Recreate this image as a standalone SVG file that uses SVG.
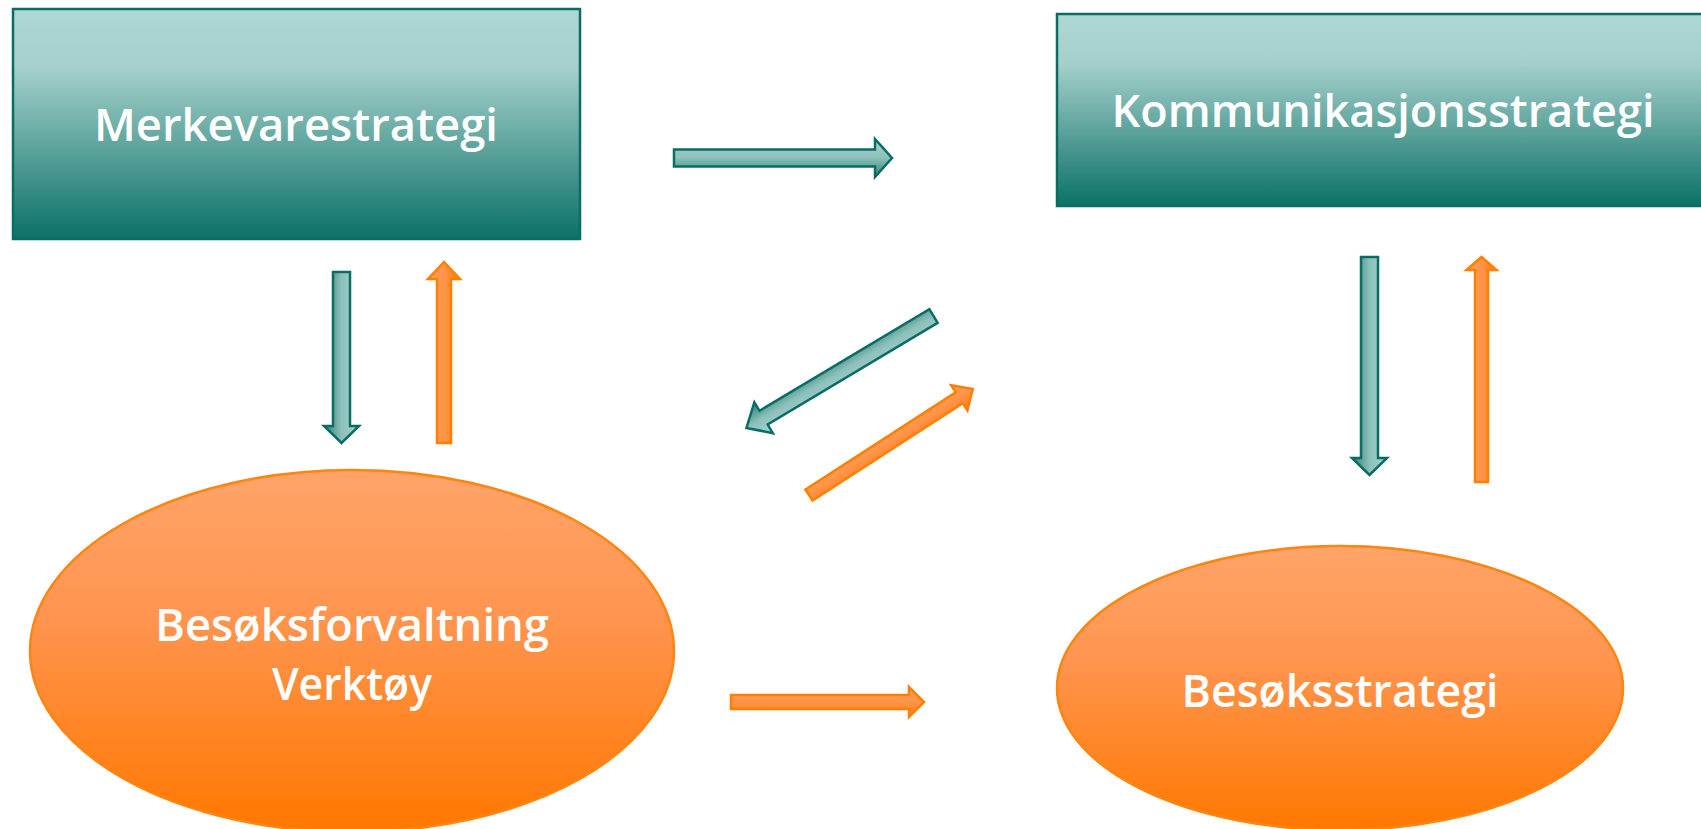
<svg xmlns="http://www.w3.org/2000/svg" width="1701" height="829" viewBox="0 0 1701 829">
<defs>
<linearGradient id="boxG" x1="0" y1="0" x2="0" y2="1">
<stop offset="0" stop-color="#afd7d3"/>
<stop offset="0.25" stop-color="#a6d0cb"/>
<stop offset="1" stop-color="#0b7168"/>
</linearGradient>
<linearGradient id="ellG" x1="0" y1="0" x2="0" y2="1">
<stop offset="0" stop-color="#ffa468"/>
<stop offset="0.4" stop-color="#ff9550"/>
<stop offset="1" stop-color="#ff7800"/>
</linearGradient>
<linearGradient id="tealA" x1="0" y1="0" x2="0" y2="1">
<stop offset="0" stop-color="#a9d3ce"/>
<stop offset="0.5" stop-color="#8cc0ba"/>
<stop offset="1" stop-color="#2e8078"/>
</linearGradient>
<linearGradient id="orA" x1="0" y1="0" x2="0" y2="1">
<stop offset="0" stop-color="#ffa060"/>
<stop offset="0.5" stop-color="#ff9448"/>
<stop offset="1" stop-color="#ff7d10"/>
</linearGradient>
<style>
.box{fill:url(#boxG);stroke:#0a6d64;stroke-width:2.5}
.ell{fill:url(#ellG);stroke:#ff8410;stroke-width:2.5}
.lbl{font-family:"Open Sans","Noto Sans","Liberation Sans",sans-serif;font-weight:600;font-size:45px;fill:#ffffff;text-anchor:middle}
.ta{fill:url(#tealA);stroke:#0a6d64;stroke-width:2.5;stroke-linejoin:miter}
.oa{fill:url(#orA);stroke:#ff8000;stroke-width:2.5;stroke-linejoin:miter}
</style>
</defs>
<rect width="1701" height="829" fill="#ffffff"/>

<g id="merkevarestrategi">
<rect class="box" x="13" y="9" width="567" height="230"/>
<text class="lbl" x="296" y="141" textLength="404" lengthAdjust="spacingAndGlyphs">Merkevarestrategi</text>
</g>

<g id="kommunikasjonsstrategi">
<rect class="box" x="1057" y="14" width="660" height="192"/>
<text class="lbl" x="1383" y="127" textLength="543" lengthAdjust="spacingAndGlyphs">Kommunikasjonsstrategi</text>
</g>

<g id="besoksforvaltning">
<ellipse class="ell" cx="352" cy="651" rx="322" ry="181"/>
<text class="lbl" x="352" y="641" textLength="394" lengthAdjust="spacingAndGlyphs">Besøksforvaltning</text>
<text class="lbl" x="352" y="700" textLength="160" lengthAdjust="spacingAndGlyphs">Verktøy</text>
</g>

<g id="besoksstrategi">
<ellipse class="ell" cx="1340" cy="688" rx="283" ry="142"/>
<text class="lbl" x="1340" y="707" textLength="317" lengthAdjust="spacingAndGlyphs">Besøksstrategi</text>
</g>

<g id="connectors">
<!-- Merkevare -> Kommunikasjon -->
<polygon class="ta" transform="translate(674,158)" points="0,-8.5 201,-8.5 201,-19 218,0 201,19 201,8.5 0,8.5"/>
<!-- Merkevare -> Besøksforvaltning -->
<polygon class="ta" transform="translate(341.5,272) rotate(90)" points="0,-8.5 154,-8.5 154,-17.5 171,0 154,17.5 154,8.5 0,8.5"/>
<!-- Besøksforvaltning -> Merkevare -->
<polygon class="oa" transform="translate(444,443) rotate(-90)" points="0,-7 164,-7 164,-16 181,0 164,16 164,7 0,7"/>
<!-- Kommunikasjon -> Besøksstrategi -->
<polygon class="ta" transform="translate(1369.5,257) rotate(90)" points="0,-8.5 201,-8.5 201,-17.5 218,0 201,17.5 201,8.5 0,8.5"/>
<!-- Besøksstrategi -> Kommunikasjon -->
<polygon class="oa" transform="translate(1481.5,482) rotate(-90)" points="0,-6.5 212,-6.5 212,-15 225,0 212,15 212,6.5 0,6.5"/>
<!-- Kommunikasjon -> Besøksforvaltning (diagonal) -->
<polygon class="ta" transform="translate(933.5,316) rotate(149.1)" points="0,-8 198,-8 198,-18 218,0 198,18 198,8 0,8"/>
<!-- Besøksforvaltning -> Kommunikasjon (diagonal) -->
<polygon class="oa" transform="translate(809,495) rotate(-32.9)" points="0,-6.5 179,-6.5 179,-15 195,0 179,15 179,6.5 0,6.5"/>
<!-- Besøksforvaltning -> Besøksstrategi -->
<polygon class="oa" transform="translate(731,702)" points="0,-7 178,-7 178,-15 193,0 178,15 178,7 0,7"/>
</g>
</svg>
